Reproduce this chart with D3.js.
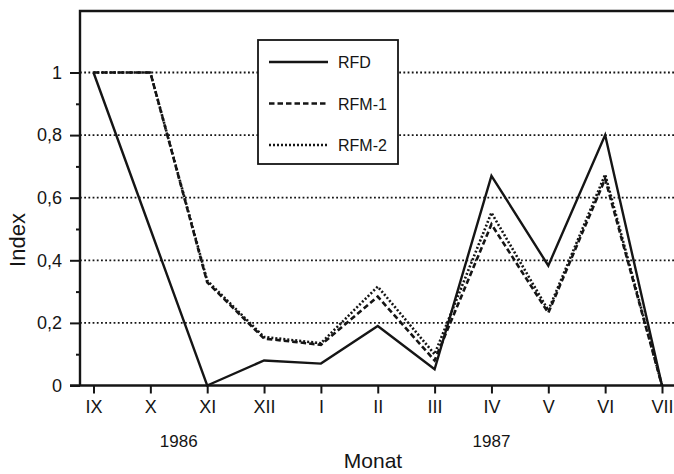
<!DOCTYPE html>
<html>
<head>
<meta charset="utf-8">
<script src="https://cdn.jsdelivr.net/npm/d3@7"></script>
<style>
  body { margin: 0; background: #fff; }
  svg { display: block; font-family: "Liberation Sans", Arial, Helvetica, sans-serif; }
</style>
</head>
<body>
<svg id="chart" width="674" height="474"></svg>
<script>
// months along the x axis (Sept 1986 - July 1987)
var months = ['IX', 'X', 'XI', 'XII', 'I', 'II', 'III', 'IV', 'V', 'VI', 'VII'];
var rfd  = [1, 0.5, 0, 0.08, 0.07, 0.19, 0.052, 0.67, 0.383, 0.8, 0];
var rfm1 = [1, 1, 0.33, 0.15, 0.13, 0.284, 0.08, 0.515, 0.232, 0.66, 0];
var rfm2 = [1, 1, 0.335, 0.155, 0.135, 0.316, 0.1, 0.552, 0.24, 0.674, 0];
var majorTicks = [0, 0.2, 0.4, 0.6, 0.8, 1];
var minorTicks = [0.1, 0.3, 0.5, 0.7, 0.9];
var years = [{label: '1986', between: ['X', 'XI']}, {label: '1987', at: 'IV'}];
var seriesNames = ['RFD', 'RFM-1', 'RFM-2'];

var svg = d3.select('#chart');
var plotLeft = 80, plotTop = 11, plotRight = 676, plotBottom = 385.5;
var ink = '#151515';

var x = d3.scalePoint()
    .domain(months)
    .range([93.5, 662]);
var y = d3.scaleLinear()
    .domain([0, 1])
    .range([plotBottom, 72.5]);

var dashes = {'RFD': null, 'RFM-1': '5.5,3', 'RFM-2': '2,2'};
var widths = {'RFD': 2.4, 'RFM-1': 2.6, 'RFM-2': 2.6};

//dotted grid lines
svg.append('g').selectAll('line')
    .data(majorTicks.slice(1))
    .enter().append('line')
    .attr('x1', plotLeft).attr('x2', plotRight)
    .attr('y1', function(d) { return y(d); })
    .attr('y2', function(d) { return y(d); })
    .attr('stroke', ink)
    .attr('stroke-width', 1.8)
    .attr('stroke-dasharray', '1.8,2.4');

//frame
svg.append('path')
    .attr('d', 'M' + plotLeft + ',' + plotBottom + 'V' + plotTop + 'H' + plotRight)
    .attr('fill', 'none')
    .attr('stroke', ink)
    .attr('stroke-width', 2.4);

//y axis: major and minor ticks
var yAxis = d3.axisLeft(y)
    .tickValues(majorTicks)
    .tickSize(10)
    .tickPadding(8)
    .tickFormat(function(d) { return d === 0 || d === 1 ? String(d) : String(d).replace('.', ','); });
var gy = svg.append('g')
    .attr('transform', 'translate(' + plotLeft + ',0)')
    .call(yAxis);
gy.select('.domain').remove();
gy.selectAll('line').attr('stroke', ink).attr('stroke-width', 2);
gy.selectAll('text').attr('font-size', 18).attr('fill', ink).attr('font-family', '"Liberation Sans", Arial, sans-serif');

var gyMinor = svg.append('g')
    .attr('transform', 'translate(' + plotLeft + ',0)')
    .call(d3.axisLeft(y).tickValues(minorTicks).tickSize(4).tickFormat(''));
gyMinor.select('.domain').remove();
gyMinor.selectAll('line').attr('stroke', ink).attr('stroke-width', 2);

//x axis
var xAxis = d3.axisBottom(x)
    .tickSize(8)
    .tickPadding(7);
var gx = svg.append('g')
    .attr('transform', 'translate(0,' + plotBottom + ')')
    .call(xAxis);
gx.select('.domain').remove();
gx.selectAll('line').attr('stroke', ink).attr('stroke-width', 2);
gx.selectAll('text').attr('font-size', 18).attr('fill', ink).attr('font-family', '"Liberation Sans", Arial, sans-serif');

svg.append('line')
    .attr('x1', 70).attr('x2', plotRight)
    .attr('y1', plotBottom).attr('y2', plotBottom)
    .attr('stroke', ink)
    .attr('stroke-width', 2.4);

//year labels
svg.selectAll('.year')
    .data(years)
    .enter().append('text')
    .attr('class', 'year')
    .attr('x', function(d) { return d.at ? x(d.at) : (x(d.between[0]) + x(d.between[1])) / 2; })
    .attr('y', 447)
    .attr('text-anchor', 'middle')
    .attr('font-size', 17)
    .attr('fill', ink)
    .text(function(d) { return d.label; });

//axis titles
svg.append('text')
    .attr('x', 373).attr('y', 468)
    .attr('text-anchor', 'middle')
    .attr('font-size', 21)
    .attr('fill', ink)
    .text('Monat');
svg.append('text')
    .attr('transform', 'translate(25,240) rotate(-90)')
    .attr('text-anchor', 'middle')
    .attr('font-size', 22)
    .attr('fill', ink)
    .text('Index');

//series lines
var line = d3.line()
    .x(function(d, i) { return x(months[i]); })
    .y(function(d) { return y(d); });
var allSeries = [rfm2, rfm1, rfd];
var allNames = ['RFM-2', 'RFM-1', 'RFD'];
allSeries.forEach(function(values, i) {
    svg.append('path')
        .datum(values)
        .attr('d', line)
        .attr('fill', 'none')
        .attr('stroke', ink)
        .attr('stroke-width', widths[allNames[i]])
        .attr('stroke-linejoin', 'miter')
        .attr('stroke-dasharray', dashes[allNames[i]]);
});

//legend
var legend = svg.append('g').attr('transform', 'translate(258,40)');
legend.append('rect')
    .attr('width', 140).attr('height', 124)
    .attr('fill', '#fff')
    .attr('stroke', ink)
    .attr('stroke-width', 1.8);
var rowY = d3.scalePoint().domain(seriesNames).range([22, 105]);
seriesNames.forEach(function(name) {
    legend.append('line')
        .attr('x1', 11).attr('x2', 70)
        .attr('y1', rowY(name)).attr('y2', rowY(name))
        .attr('stroke', ink)
        .attr('stroke-width', widths[name])
        .attr('stroke-dasharray', dashes[name]);
    legend.append('text')
        .attr('x', 80).attr('y', rowY(name) + 6)
        .attr('font-size', 16)
        .attr('fill', ink)
        .text(name);
});
</script>
</body>
</html>
